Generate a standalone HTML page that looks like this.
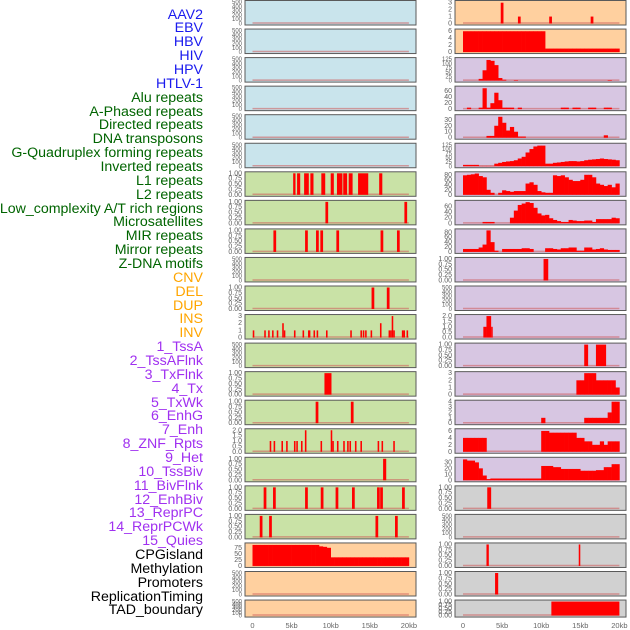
<!DOCTYPE html>
<html><head><meta charset="utf-8"><style>
body{margin:0;background:#fff;}
#wrap{position:relative;width:630px;height:630px;overflow:hidden;font-family:"Liberation Sans",sans-serif;}
.lab{position:absolute;right:427px;font-size:14.2px;line-height:14px;white-space:nowrap;}
</style></head><body>
<div id="wrap">
<svg id="svg" width="630" height="630" style="position:absolute;left:0;top:0"></svg>
</div>
<script>
// ---- data ----
const labels=["AAV2","EBV","HBV","HIV","HPV","HTLV-1","Alu repeats","A-Phased repeats","Directed repeats","DNA transposons","G-Quadruplex forming repeats","Inverted repeats","L1 repeats","L2 repeats","Low_complexity A/T rich regions","Microsatellites","MIR repeats","Mirror repeats","Z-DNA motifs","CNV","DEL","DUP","INS","INV","1_TssA","2_TssAFlnk","3_TxFlnk","4_Tx","5_TxWk","6_EnhG","7_Enh","8_ZNF_Rpts","9_Het","10_TssBiv","11_BivFlnk","12_EnhBiv","13_ReprPC","14_ReprPCWk","15_Quies","CPGisland","Methylation","Promoters","ReplicationTiming","TAD_boundary"];
const labelGroups=[6,13,5,15,5];
const xTicks=[0,5,10,15,20];
const xTickLabels=["0","5kb","10kb","15kb","20kb"];
// right-column data (kb)
const R1_pos=[5.0,7.2,11.2,16.5];
const R1_val=[3,1,1,1];
const R2_vals=[6,6,6,6,6,6,6,6,6,6,6,6,6,6,6,6,6,6,6,6,6,1,1,1,1,1,1,1,1,1,1,1,1,1,1,1,1,1,1,1];
const R3_vals=[0,0,0,0,10,60,120,115,90,15,5,0,0,3,0,0,0,0,0,0,0,0,0,0,0,0,0,0,0,0,0,0,0,0,0,0,0,3,0,0];
const R4_vals=[0,5,0,0,5,70,5,20,55,30,5,5,5,0,5,0,0,0,0,0,0,0,0,0,0,5,5,0,5,5,0,0,5,5,0,0,5,5,0,0];
const R5_vals=[0,0,0,0,0,0,3,3,20,35,25,12,18,10,2,2,0,0,0,0,0,0,0,0,0,0,0,0,0,0,0,0,0,0,0,0,4,0,0,0];
const R6_vals=[8,8,8,8,2,2,2,2,15,20,25,28,30,35,45,55,80,100,115,120,120,15,15,20,22,25,28,30,30,28,30,35,38,40,42,45,42,40,38,35];
const R7_vals=[78,80,82,85,75,70,20,8,0,8,18,15,12,15,15,15,45,50,40,15,10,8,8,78,75,78,70,60,55,55,60,80,80,70,45,40,35,40,30,45];
const R8_vals=[0,0,0,0,0,5,5,5,0,0,0,0,20,45,65,70,75,72,55,35,28,30,18,12,8,5,5,12,10,8,8,10,10,5,15,15,15,15,20,18];
const R9_vals=[12,12,12,12,18,30,88,40,5,0,12,12,12,12,12,15,15,12,0,0,0,15,15,12,10,15,15,18,18,5,5,18,18,10,12,15,10,8,8,8];
const R10_start=[10.3],R10_end=[10.9],R10_val=[1];
const R12_start=[2.6,3.0,3.6],R12_end=[3.0,3.6,3.8],R12_val=[1,2,1];
const R13_start=[15.5,17.0],R13_end=[16.0,18.3],R13_val=[1,1];
const R14_vals=[0,0,0,0,0,0,0,0,0,0,0,0,0,0,0,0,0,0,0,0,0,0,0,0,0,0,0,0,0,2,2,3,3,3,2,2,2,2,2,1];
const R15_vals=[0,0,0,0,0,0,0,0,0,0,0,0,0,0,0,0,0,0,0,0,1,0,0,0,0,0,0,0,0,0,0,1,1,1,1,1,1,2,4,4];
const R16_vals=[4,4,4,4,4,4,0,0,0,0,0,0,0,0,0,0,0,0,0,0,6,6,5.5,5.5,5.5,5.5,5.5,5.5,5.5,4,4,3,3,2,2,3,2,3,3,3];
const R17_vals=[35,33,33,30,20,8,2,3,3,3,3,3,3,3,3,3,3,3,3,3,24,24,24,22,22,19,19,19,19,19,16,16,16,16,17,17,22,22,27,27];
const R18_start=[3.1],R18_end=[3.6],R18_val=[1];
const R20_start=[3.0,14.8],R20_end=[3.3,15.0],R20_val=[1,1];
const R21_start=[4.1],R21_end=[4.5],R21_val=[1];
const R22_start=[11.3],R22_end=[20.0],R22_val=[1];
// left-column data (kb)
const L7_start=[5.2,5.7,6.6,7.4,8.8,10.0,10.8,11.6,12.3,13.5,16.2];
const L7_end=[5.5,6.1,7.2,7.8,9.3,10.4,11.5,12.1,12.8,14.8,16.6];
const L8_pos=[9.5,19.6];
const L9_pos=[2.85,6.9,8.3,8.85,10.9,16.55,18.65];
const L11_pos=[15.4,17.35];
const L12_pos=[0.13,1.6,2.1,2.6,3.2,3.9,4.1,5.4,6.5,7.2,7.3,7.9,8.3,9.5,12.6,13.9,14.2,14.5,15.2,16.4,17.5,17.7,17.9,18.1,19.2,19.4,19.8];
const L12_val=[1,1,1,1,1,2,1,1,1,1,1,1,1,1,1,1,1,1,1,2,1,1,3,1,1,1,1];
const L14_start=[9.2],L14_end=[10.1],L14_val=[1];
const L15_pos=[8.25,12.75];
const L16_pos=[2.3,2.8,3.8,4.4,5.4,5.7,6.3,6.8,8.8,10.1,10.3,10.9,11.7,12.2,12.5,13.2,13.9,16.1,16.6,18.1];
const L16_val=[1,1,1,1,1,1,1,2,1,2,1,1,1,1,1,1,1,1,1,1];
const L17_start=[16.7],L17_end=[17.1],L17_val=[1];
const L18_pos=[1.6,2.8,6.9,8.9,10.8,12.9,16.1,16.5,19.3];
const L19_pos=[1.1,2.3,15.9,18.4];
const L20_vals=[88,88,88,88,88,88,88,88,88,88,88,88,88,88,88,88,88,82,80,76,36,36,36,36,36,36,36,36,36,36,36,36,36,36,36,36,36,36,36,36];

// ---- layout ----
const NS="http://www.w3.org/2000/svg";
const svg=document.getElementById('svg');
const wrap=document.getElementById('wrap');
const COLS=[{x0:245,x1:416,z:252.5},{x0:455,x1:626,z:463}];
const KB=7.82;
const C={blue:"#c9e4ec",green:"#c9e2a6",orange:"#ffd09f",purple:"#d7c6e2",gray:"#d1d1d1"};
function rowTop(i){return 0.5+i*28.55;}
function rowH(i){return i===21?17:24.5;}
function mk(tag,attrs,parent){const e=document.createElementNS(NS,tag);for(const k in attrs)e.setAttribute(k,attrs[k]);(parent||svg).appendChild(e);return e;}
const T500=[0,100,200,300,400,500],TB=[0,0.25,0.5,0.75,1];
const fmtB=v=>v.toFixed(2);
const specs=[];
for(let r=0;r<22;r++){
  const lbg=r<6?C.blue:(r<19?C.green:C.orange);
  const rbg=r<2?C.orange:(r<17?C.purple:C.gray);
  specs.push({r,c:0,bg:lbg,def:true});specs.push({r,c:1,bg:rbg,def:true});
}
function setSpec(r,c,o){const s=specs.find(s=>s.r===r&&s.c===c);Object.assign(s,o);s.def=false;}
setSpec(0,1,{ymax:3.1,ticks:[0,1,2,3],type:'spike',pos:R1_pos,val:R1_val});
setSpec(1,1,{ymax:6.2,ticks:[0,2,4,6],type:'bins',vals:R2_vals});
setSpec(2,1,{ymax:125,ticks:[0,25,50,75,100,125],type:'bins',vals:R3_vals});
setSpec(3,1,{ymax:72,ticks:[0,20,40,60],type:'bins',vals:R4_vals});
setSpec(4,1,{ymax:36,ticks:[0,10,20,30],type:'bins',vals:R5_vals});
setSpec(5,1,{ymax:125,ticks:[0,25,50,75,100,125],type:'bins',vals:R6_vals});
setSpec(6,0,{ymax:1,ticks:TB,fmt:fmtB,type:'range',st:L7_start,en:L7_end});
setSpec(6,1,{ymax:86,ticks:[0,20,40,60,80],type:'bins',vals:R7_vals});
setSpec(7,0,{ymax:1,ticks:TB,fmt:fmtB,type:'spike',pos:L8_pos});
setSpec(7,1,{ymax:76,ticks:[0,20,40,60],type:'bins',vals:R8_vals});
setSpec(8,0,{ymax:1,ticks:TB,fmt:fmtB,type:'spike',pos:L9_pos});
setSpec(8,1,{ymax:88,ticks:[0,20,40,60,80],type:'bins',vals:R9_vals});
setSpec(9,1,{ymax:1,ticks:TB,fmt:fmtB,type:'range',st:R10_start,en:R10_end,val:R10_val});
setSpec(10,0,{ymax:1,ticks:TB,fmt:fmtB,type:'spike',pos:L11_pos});
setSpec(11,0,{ymax:3,ticks:[0,1,2,3],type:'spike',pos:L12_pos,val:L12_val,w:0.2});
setSpec(11,1,{ymax:2,ticks:[0,0.5,1,1.5,2],fmt:v=>v.toFixed(1),type:'range',st:R12_start,en:R12_end,val:R12_val});
setSpec(12,1,{ymax:1,ticks:TB,fmt:fmtB,type:'range',st:R13_start,en:R13_end,val:R13_val});
setSpec(13,0,{ymax:1,ticks:TB,fmt:fmtB,type:'range',st:L14_start,en:L14_end,val:L14_val});
setSpec(13,1,{ymax:3,ticks:[0,1,2,3],type:'bins',vals:R14_vals});
setSpec(14,0,{ymax:1,ticks:TB,fmt:fmtB,type:'spike',pos:L15_pos});
setSpec(14,1,{ymax:4,ticks:[0,1,2,3,4],type:'bins',vals:R15_vals});
setSpec(15,0,{ymax:2,ticks:[0,0.5,1,1.5,2],fmt:v=>v.toFixed(1),type:'spike',pos:L16_pos,val:L16_val,w:0.2});
setSpec(15,1,{ymax:6.2,ticks:[0,2,4,6],type:'bins',vals:R16_vals});
setSpec(16,0,{ymax:1,ticks:TB,fmt:fmtB,type:'range',st:L17_start,en:L17_end,val:L17_val});
setSpec(16,1,{ymax:36,ticks:[0,10,20,30],type:'bins',vals:R17_vals});
setSpec(17,0,{ymax:1,ticks:TB,fmt:fmtB,type:'spike',pos:L18_pos});
setSpec(17,1,{ymax:1,ticks:TB,fmt:fmtB,type:'range',st:R18_start,en:R18_end,val:R18_val});
setSpec(18,0,{ymax:1,ticks:TB,fmt:fmtB,type:'spike',pos:L19_pos});
setSpec(19,0,{ymax:90,ticks:[0,25,50,75],type:'bins',vals:L20_vals});
setSpec(19,1,{ymax:1,ticks:TB,fmt:fmtB,type:'range',st:R20_start,en:R20_end,val:R20_val});
setSpec(20,1,{ymax:1,ticks:TB,fmt:fmtB,type:'range',st:R21_start,en:R21_end,val:R21_val});
setSpec(21,1,{ymax:1,ticks:TB,fmt:fmtB,type:'range',st:R22_start,en:R22_end,val:R22_val});

specs.forEach((s,k)=>{
  const col=COLS[s.c],top=rowTop(s.r),h=rowH(s.r);
  const g=mk('g',{});
  
  
  mk('rect',{x:col.x0,y:top,width:col.x1-col.x0,height:h,fill:s.bg},g);
  const ymax=s.def?500:s.ymax,ticks=s.def?T500:s.ticks,fmt=s.fmt||(v=>String(v));
  const yb=top+h-1.5,yt=top+1.5;
  const ys=v=>yb-(v/ymax)*(yb-yt);
  const xs=kb=>col.z+kb*KB;
  mk('line',{x1:xs(0),x2:xs(20),y1:yb-0.5,y2:yb-0.5,stroke:'rgba(205,90,90,0.55)','stroke-width':1.5},g);
  const bar=(x0,x1,v)=>{if(v<=0)return;const r=mk('rect',{x:x0,y:ys(v),width:Math.max(x1-x0,1),height:yb-ys(v),fill:'#ff0000'},g);
    };
  if(s.type==='bins'){s.vals.forEach((v,i)=>bar(xs(i*0.5),xs((i+1)*0.5)+0.3,v));}
  if(s.type==='spike'){const w=s.w||0.35;s.pos.forEach((p,i)=>bar(xs(p-w/2),xs(p+w/2),s.val?s.val[i]:1));}
  if(s.type==='range'){s.st.forEach((a,i)=>bar(xs(a),xs(s.en[i]),s.val?s.val[i]:1));}
  mk('rect',{x:col.x0,y:top,width:col.x1-col.x0,height:h,fill:'none',stroke:'#5a5a5a','stroke-width':1},g);
  const fs=ticks.length>5?6:7;
  ticks.forEach(t=>{const tx=mk('text',{x:col.x0-3,y:ys(t)+2,'text-anchor':'end','font-size':fs,fill:'#5e5e5e','font-family':'Liberation Sans, sans-serif'},g);tx.textContent=fmt(t);
    });
});
COLS.forEach((col,c)=>{xTicks.forEach((t,i)=>{const tx=mk('text',{x:col.z+t*KB,y:628,'text-anchor':'middle','font-size':7.5,fill:'#666','font-family':'Liberation Sans, sans-serif'});tx.textContent=xTickLabels[i];
  });});
const gcol=["#1a1aee","#006400","#ffa500","#a030f0","#000"];
let gi=0,cnt=0;
labels.forEach((l,i)=>{
  if(cnt>=labelGroups[gi]){gi++;cnt=0;}cnt++;
  const d=document.createElement('div');d.className='lab';d.textContent=l;
  d.style.top=(15+i*13.86-7.5)+'px';d.style.color=gcol[gi];
  
  
  wrap.appendChild(d);
});
</script>
</body></html>
